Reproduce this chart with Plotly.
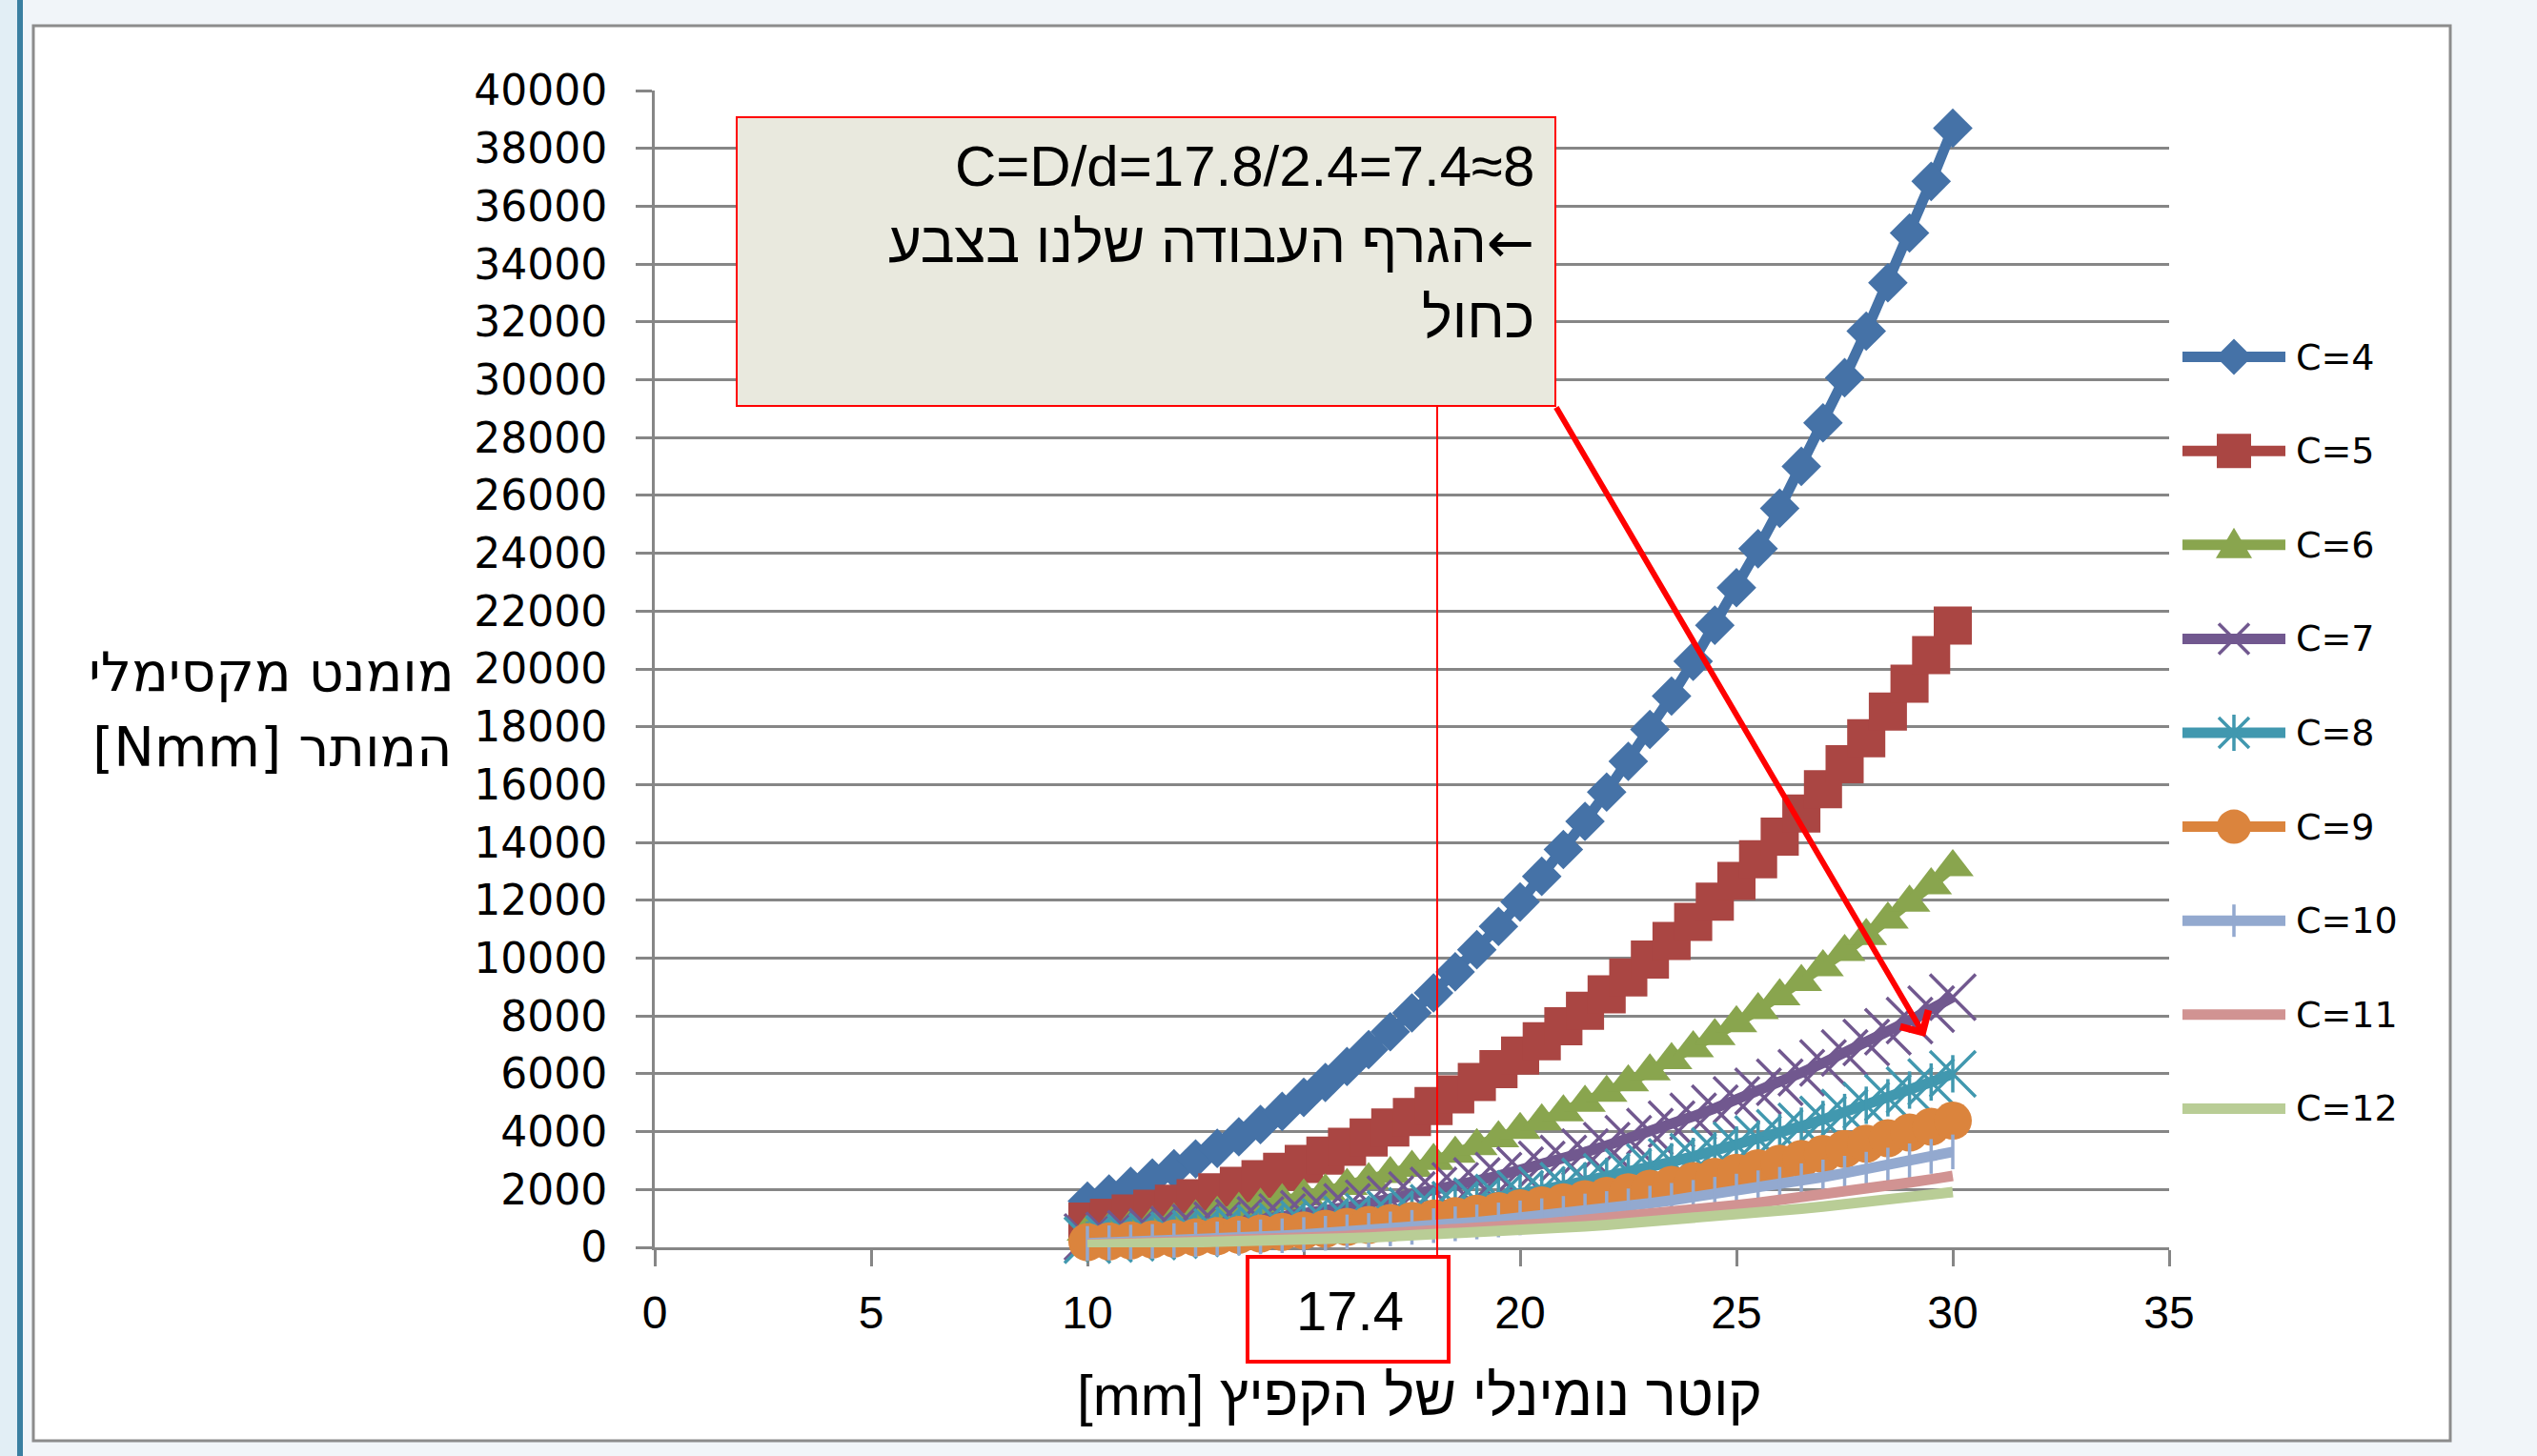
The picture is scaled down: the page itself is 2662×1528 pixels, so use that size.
import plotly.graph_objects as go

# ---------------- data ----------------
diameter_mm = [10.0, 10.5, 11.0, 11.5, 12.0, 12.5, 13.0, 13.5, 14.0, 14.5,
               15.0, 15.5, 16.0, 16.5, 17.0, 17.5, 18.0, 18.5, 19.0, 19.5,
               20.0, 20.5, 21.0, 21.5, 22.0, 22.5, 23.0, 23.5, 24.0, 24.5,
               25.0, 25.5, 26.0, 26.5, 27.0, 27.5, 28.0, 28.5, 29.0, 29.5, 30.0]

series_names = ["C=4", "C=5", "C=6", "C=7", "C=8", "C=9", "C=10", "C=11", "C=12"]

moment_c4 = [1600, 1843, 2109, 2399, 2714, 3056, 3424, 3820, 4245, 4699, 5185, 5702, 6252, 6835,
             7453, 8107, 8798, 9525, 10291, 11096, 11941, 12828, 13756, 14728, 15743, 16803, 17909,
             19061, 20262, 21511, 22808, 24157, 25556, 27005, 28511, 30069, 31682, 33351, 35076,
             36859, 38700]
moment_c5 = [889, 1024, 1172, 1333, 1508, 1698, 1902, 2122, 2358, 2611, 2880, 3168, 3473, 3797,
             4141, 4504, 4888, 5292, 5717, 6164, 6634, 7126, 7642, 8182, 8746, 9335, 9949, 10590,
             11256, 11951, 12671, 13420, 14198, 15003, 15840, 16705, 17601, 18528, 19487, 20477, 21500]
moment_c6 = [544, 626, 717, 815, 922, 1038, 1163, 1298, 1442, 1597, 1762, 1937, 2124, 2323, 2533,
             2755, 2989, 3237, 3497, 3770, 4057, 4359, 4674, 5004, 5349, 5710, 6085, 6477, 6885,
             7309, 7750, 8208, 8684, 9176, 9688, 10217, 10765, 11332, 11919, 12524, 13150]
moment_c7 = [358, 412, 471, 536, 607, 683, 765, 854, 949, 1050, 1159, 1274, 1397, 1528, 1666, 1812,
             1966, 2129, 2300, 2480, 2669, 2867, 3075, 3292, 3519, 3756, 4003, 4260, 4529, 4808,
             5098, 5399, 5712, 6036, 6373, 6721, 7081, 7454, 7840, 8238, 8650]
moment_c8 = [248, 286, 327, 372, 421, 474, 531, 592, 658, 729, 804, 884, 969, 1060, 1156, 1257,
             1364, 1477, 1595, 1720, 1851, 1989, 2133, 2283, 2441, 2605, 2777, 2955, 3141, 3335,
             3536, 3745, 3962, 4187, 4420, 4662, 4912, 5171, 5438, 5715, 6000]
moment_c9 = [181, 209, 239, 272, 307, 346, 387, 432, 480, 532, 587, 645, 708, 774, 844, 918, 996,
             1078, 1165, 1256, 1351, 1452, 1557, 1667, 1782, 1902, 2027, 2157, 2293, 2435, 2581,
             2734, 2892, 3056, 3227, 3403, 3586, 3775, 3970, 4172, 4380]
moment_c10 = [136, 157, 180, 205, 231, 261, 292, 326, 362, 401, 442, 486, 533, 583, 636, 691, 750,
              812, 877, 946, 1018, 1094, 1173, 1256, 1342, 1433, 1527, 1625, 1728, 1834, 1945,
              2060, 2179, 2303, 2431, 2564, 2702, 2844, 2991, 3143, 3300]
moment_c11 = [102, 118, 135, 153, 173, 195, 219, 244, 271, 300, 331, 364, 399, 436, 476, 517, 561,
              608, 657, 708, 762, 819, 878, 940, 1005, 1072, 1143, 1217, 1293, 1373, 1456, 1542,
              1631, 1724, 1820, 1919, 2022, 2129, 2239, 2353, 2470]
moment_c12 = [79, 91, 104, 118, 134, 151, 169, 189, 209, 232, 256, 281, 309, 337, 368, 400, 434,
              470, 508, 548, 589, 633, 679, 727, 777, 829, 884, 941, 1000, 1062, 1126, 1192, 1261,
              1333, 1407, 1484, 1564, 1646, 1731, 1819, 1910]

series_values = [moment_c4, moment_c5, moment_c6, moment_c7, moment_c8,
                 moment_c9, moment_c10, moment_c11, moment_c12]

x_tick_values = [0, 5, 10, 15, 20, 25, 30, 35]
# the "15" label is hidden behind the boxed "17.4" callout in the reference
x_tick_text = ["0", "5", "10", "", "20", "25", "30", "35"]
y_tick_values = list(range(0, 40001, 2000))

# ---------------- styles ----------------
colors = ["#4572A7", "#AA4643", "#89A54E", "#71588F", "#4198AF",
          "#DB843D", "#93A9CF", "#D19392", "#B9CD96"]
marker_styles = [
    dict(symbol="diamond", size=32, lw=0),
    dict(symbol="square", size=40, lw=0),
    dict(symbol="triangle-up", size=38, lw=0),
    dict(symbol="x-thin-open", size=48, lw=3.5),
    dict(symbol="x-thin-open", size=48, lw=3.5),
    dict(symbol="circle", size=40, lw=0),
    dict(symbol="line-ns-open", size=26, lw=3.5),
    None,
    None,
]
extra_vertical_bar = [False, False, False, False, True, False, False, False, False]
legend_glyphs = ["diamond", "square", "triangle", "x", "asterisk", "circle", "plus", None, None]
LINE_W = 11

W, H = 2662, 1528
PL, PR, PT, PB = 687, 2276, 95, 1309   # plot area in pixels


def fx(p):
    return (p - PL) / (PR - PL)


def fy(p):
    return (PB - p) / (PB - PT)


fig = go.Figure()
for name, vals, col, ms, ev in zip(series_names, series_values, colors, marker_styles, extra_vertical_bar):
    if ms is None:
        fig.add_trace(go.Scatter(x=diameter_mm, y=vals, mode="lines", name=name,
                                 line=dict(color=col, width=LINE_W), cliponaxis=False,
                                 showlegend=False))
    else:
        fig.add_trace(go.Scatter(
            x=diameter_mm, y=vals, mode="lines+markers", name=name,
            line=dict(color=col, width=LINE_W), cliponaxis=False, showlegend=False,
            marker=dict(symbol=ms["symbol"], size=ms["size"], color=col,
                        line=dict(color=col, width=ms["lw"]))))
        if ev:
            fig.add_trace(go.Scatter(
                x=diameter_mm, y=vals, mode="markers", name=name, cliponaxis=False,
                showlegend=False,
                marker=dict(symbol="line-ns-open", size=28, color=col,
                            line=dict(color=col, width=3.5))))

RED = "#FF0000"
GRID = "#868686"
shapes = []
# page background decorations
shapes.append(dict(type="rect", xref="paper", yref="paper", x0=fx(0), x1=fx(18), y0=fy(0), y1=fy(H),
                   fillcolor="#E2EEF5", line=dict(width=0), layer="below"))
shapes.append(dict(type="rect", xref="paper", yref="paper", x0=fx(18), x1=fx(24), y0=fy(0), y1=fy(H),
                   fillcolor="#3A7FA1", line=dict(width=0), layer="below"))
# chart frame
shapes.append(dict(type="rect", xref="paper", yref="paper", x0=fx(35), x1=fx(2571), y0=fy(27), y1=fy(1512),
                   fillcolor="white", line=dict(color="#8C8C8C", width=3), layer="below"))
# callout box
shapes.append(dict(type="rect", xref="paper", yref="paper", x0=fx(773), x1=fx(1632), y0=fy(123), y1=fy(426),
                   fillcolor="#E9E9DE", line=dict(color=RED, width=2), layer="above"))
# thin vertical red line
shapes.append(dict(type="line", xref="paper", yref="paper", x0=fx(1508), x1=fx(1508), y0=fy(426), y1=fy(1319),
                   line=dict(color=RED, width=2), layer="above"))
# 17.4 box
shapes.append(dict(type="rect", xref="paper", yref="paper", x0=fx(1309), x1=fx(1520), y0=fy(1319), y1=fy(1429),
                   fillcolor="white", line=dict(color=RED, width=4), layer="above"))

annotations = []
TXT = "black"
annotations.append(dict(xref="paper", yref="paper", x=fx(1612), y=fy(174), xanchor="right", yanchor="middle",
                        text="C=D/d=17.8/2.4=7.4≈8", showarrow=False,
                        font=dict(family="Liberation Sans", size=60, color=TXT)))
annotations.append(dict(xref="paper", yref="paper", x=fx(1612), y=fy(254), xanchor="right", yanchor="middle",
                        text="הגרף העבודה שלנו בצבע<span style=\"font-family:'DejaVu Sans';font-size:60px\">←</span>",
                        showarrow=False,
                        font=dict(family="Liberation Sans", size=60, color=TXT)))
annotations.append(dict(xref="paper", yref="paper", x=fx(1612), y=fy(334), xanchor="right", yanchor="middle",
                        text="כחול", showarrow=False,
                        font=dict(family="Liberation Sans", size=60, color=TXT)))
annotations.append(dict(xref="paper", yref="paper", x=fx(1416), y=fy(1375), xanchor="center", yanchor="middle",
                        text="17.4", showarrow=False,
                        font=dict(family="Liberation Sans", size=58, color=TXT)))
annotations.append(dict(xref="paper", yref="paper", x=fx(1489), y=fy(1464), xanchor="center", yanchor="middle",
                        text="[mm] קוטר נומינלי של הקפיץ", showarrow=False,
                        font=dict(family="Liberation Sans", size=60, color=TXT)))
annotations.append(dict(xref="paper", yref="paper", x=fx(479), y=fy(705), xanchor="right", yanchor="middle",
                        text="מומנט מקסימלי", showarrow=False,
                        font=dict(family="DejaVu Sans", size=57, color=TXT)))
annotations.append(dict(xref="paper", yref="paper", x=fx(476), y=fy(784), xanchor="right", yanchor="middle",
                        text="[Nmm] המותר", showarrow=False,
                        font=dict(family="DejaVu Sans", size=57, color=TXT)))
# red arrow
annotations.append(dict(xref="paper", yref="paper", x=fx(2020), y=fy(1088), axref="pixel", ayref="pixel",
                        ax=1632 - 2020, ay=426 - 1088, text="", showarrow=True,
                        arrowcolor=RED, arrowwidth=6, arrowhead=4, arrowsize=1.1,
                        standoff=0, startstandoff=0))

# manual legend
LEG_Y0, LEG_DY = 374.6, 98.6
LEG_X0, LEG_X1, LEG_XM, LEG_XT = 2290, 2398, 2344, 2407
glyph_paths = {
    "diamond": ("M0,19L19,0L0,-19L-19,0Z", True),
    "square": ("M-18,-18L18,-18L18,18L-18,18Z", True),
    "triangle": ("M-19,-14L19,-14L0,18Z", True),
    "x": ("M-16,-16L16,16M-16,16L16,-16", False),
    "asterisk": ("M-16,-16L16,16M-16,16L16,-16M0,-19L0,19", False),
    "plus": ("M0,-17L0,17", False),
}
for i, (name, col, g) in enumerate(zip(series_names, colors, legend_glyphs)):
    yc = LEG_Y0 + i * LEG_DY
    shapes.append(dict(type="line", xref="paper", yref="paper", x0=fx(LEG_X0), x1=fx(LEG_X1),
                       y0=fy(yc), y1=fy(yc), line=dict(color=col, width=LINE_W), layer="above"))
    if g == "circle":
        shapes.append(dict(type="circle", xref="paper", yref="paper", xsizemode="pixel", ysizemode="pixel",
                           xanchor=fx(LEG_XM), yanchor=fy(yc), x0=-18, x1=18, y0=-18, y1=18,
                           fillcolor=col, line=dict(width=0), layer="above"))
    elif g is not None:
        path, filled = glyph_paths[g]
        shp = dict(type="path", xref="paper", yref="paper", xsizemode="pixel", ysizemode="pixel",
                   xanchor=fx(LEG_XM), yanchor=fy(yc), path=path, layer="above")
        if filled:
            shp["fillcolor"] = col
            shp["line"] = dict(width=0)
        else:
            shp["line"] = dict(color=col, width=3.5)
        shapes.append(shp)
    annotations.append(dict(xref="paper", yref="paper", x=fx(LEG_XT), y=fy(yc), xanchor="left",
                            yanchor="middle", text=name, showarrow=False,
                            font=dict(family="DejaVu Sans", size=38, color=TXT)))

fig.update_layout(
    width=W, height=H,
    margin=dict(l=PL, r=W - PR, t=PT, b=H - PB, pad=0),
    paper_bgcolor="#F1F5F9",
    plot_bgcolor="white",
    showlegend=False,
    shapes=shapes,
    annotations=annotations,
    xaxis=dict(range=[0, 35], tickvals=x_tick_values, ticktext=x_tick_text, showgrid=False,
               zeroline=False, showline=True, linecolor=GRID, linewidth=3, ticks="outside",
               ticklen=17, tickwidth=3, tickcolor=GRID, layer="below traces", ticklabelstandoff=7,
               tickfont=dict(family="Liberation Sans", size=48, color=TXT)),
    yaxis=dict(range=[0, 40000], tickvals=y_tick_values, tickformat="d", showgrid=True,
               gridcolor=GRID, gridwidth=3, zeroline=False, showline=True, linecolor=GRID,
               linewidth=3, ticks="outside", ticklen=17, tickwidth=3, tickcolor=GRID,
               layer="below traces", ticklabelstandoff=21,
               tickfont=dict(family="DejaVu Sans", size=44, color=TXT)),
)

fig.write_html("out.html", config={"displayModeBar": False},
               post_script="document.body.style.margin='0';document.body.style.overflow='hidden';")
